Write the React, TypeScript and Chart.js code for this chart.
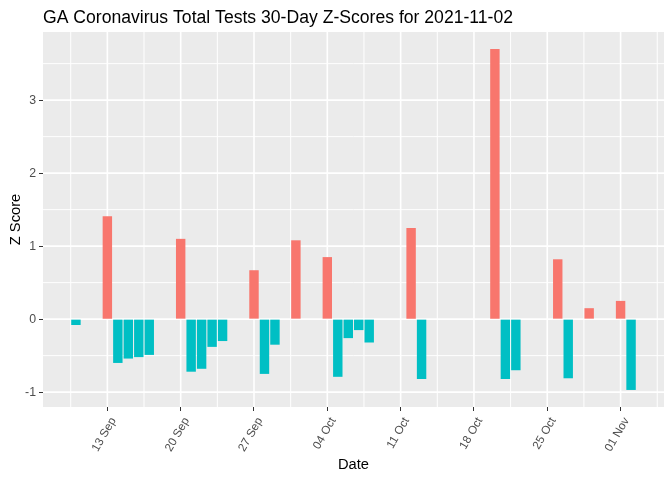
import React, { useEffect, useRef } from "react";
import { Chart, registerables } from "chart.js";

Chart.register(...registerables);

const chartTitle = "GA Coronavirus Total Tests 30-Day Z-Scores for 2021-11-02";
const xAxisTitle = "Date";
const yAxisTitle = "Z Score";

const dates = [
  "2021-09-10", "2021-09-13", "2021-09-14", "2021-09-15", "2021-09-16", "2021-09-17",
  "2021-09-20", "2021-09-21", "2021-09-22", "2021-09-23", "2021-09-24",
  "2021-09-27", "2021-09-28", "2021-09-29", "2021-10-01",
  "2021-10-04", "2021-10-05", "2021-10-06", "2021-10-07", "2021-10-08",
  "2021-10-12", "2021-10-13", "2021-10-20", "2021-10-21", "2021-10-22",
  "2021-10-26", "2021-10-27", "2021-10-29", "2021-11-01", "2021-11-02",
];
const zScores = [
  -0.08, 1.41, -0.6, -0.54, -0.52, -0.49,
  1.1, -0.72, -0.68, -0.38, -0.3,
  0.67, -0.75, -0.35, 1.08,
  0.85, -0.79, -0.26, -0.15, -0.32,
  1.25, -0.82, 3.7, -0.82, -0.7,
  0.82, -0.81, 0.15, 0.25, -0.97,
];
const xTickDates = [
  "2021-09-13", "2021-09-20", "2021-09-27", "2021-10-04",
  "2021-10-11", "2021-10-18", "2021-10-25", "2021-11-01",
];
const yTicks = [-1, 0, 1, 2, 3];

const MONTHS = ["Jan", "Feb", "Mar", "Apr", "May", "Jun", "Jul", "Aug", "Sep", "Oct", "Nov", "Dec"];
const EPOCH = Date.parse("2021-09-01T00:00:00Z");
const DAY = 86400000;
const dayNum = (s: string) => (Date.parse(s + "T00:00:00Z") - EPOCH) / DAY;
const dayLabel = (d: number) => {
  const t = new Date(EPOCH + Math.round(d) * DAY);
  return String(t.getUTCDate()).padStart(2, "0") + " " + MONTHS[t.getUTCMonth()];
};

const POS = "#F8766D";
const NEG = "#00BFC4";
const FONT = "'Liberation Sans', Arial, sans-serif";

export default function App() {
  const ref = useRef<HTMLCanvasElement | null>(null);

  useEffect(() => {
    document.body.style.margin = "0";
    const canvas = ref.current;
    if (!canvas) return;

    const days = dates.map(dayNum);
    const lo = Math.min(...days) - 0.45;
    const hi = Math.max(...days) + 0.45;
    const xMin = lo - 0.05 * (hi - lo);
    const xMax = hi + 0.05 * (hi - lo);
    const yLo = Math.min(0, ...zScores);
    const yHi = Math.max(0, ...zScores);
    const yMin = yLo - 0.05 * (yHi - yLo);
    const yMax = yHi + 0.05 * (yHi - yLo);

    const xMajor = xTickDates.map(dayNum);
    const xMinor: number[] = [];
    for (let i = -1; i < xMajor.length; i++) {
      const v = (xMajor[0] - 3.5) + 7 * (i + 1);
      if (v > xMin && v < xMax) xMinor.push(v);
    }
    const yMinor: number[] = [];
    for (let v = -1.5; v < yMax; v += 1) if (v > yMin) yMinor.push(v);

    const panelPlugin = {
      id: "panel",
      beforeDatasetsDraw(chart: any) {
        const { ctx, chartArea: a, scales } = chart;
        ctx.save();
        ctx.fillStyle = "#EBEBEB";
        ctx.fillRect(a.left, a.top, a.right - a.left, a.bottom - a.top);
        ctx.strokeStyle = "#FFFFFF";
        const vline = (v: number, w: number) => {
          const x = scales.x.getPixelForValue(v);
          ctx.lineWidth = w;
          ctx.beginPath();
          ctx.moveTo(x, a.top);
          ctx.lineTo(x, a.bottom);
          ctx.stroke();
        };
        const hline = (v: number, w: number) => {
          const y = scales.y.getPixelForValue(v);
          ctx.lineWidth = w;
          ctx.beginPath();
          ctx.moveTo(a.left, y);
          ctx.lineTo(a.right, y);
          ctx.stroke();
        };
        xMinor.forEach((v) => vline(v, 1));
        yMinor.forEach((v) => hline(v, 1));
        xMajor.forEach((v) => vline(v, 1.6));
        yTicks.forEach((v) => hline(v, 1.6));
        ctx.restore();
      },
      afterDraw(chart: any) {
        const { ctx, chartArea: a } = chart;
        ctx.save();
        ctx.fillStyle = "#000000";
        ctx.font = `17.6px ${FONT}`;
        ctx.textAlign = "left";
        ctx.textBaseline = "alphabetic";
        ctx.fillText(chartTitle, a.left, 22.5);
        ctx.font = `14.7px ${FONT}`;
        ctx.textAlign = "center";
        ctx.fillText(xAxisTitle, (a.left + a.right) / 2, 469);
        ctx.translate(19.5, (a.top + a.bottom) / 2);
        ctx.rotate(-Math.PI / 2);
        ctx.fillText(yAxisTitle, 0, 0);
        ctx.restore();
      },
    };

    const chart = new Chart(canvas, {
      type: "bar",
      data: {
        datasets: [
          {
            data: days.map((d, i) => ({ x: d, y: zScores[i] })),
            backgroundColor: zScores.map((v) => (v >= 0 ? POS : NEG)),
            borderWidth: 0,
            categoryPercentage: 1,
            barPercentage: 0.9,
          } as any,
        ],
      },
      options: {
        animation: false,
        responsive: false,
        devicePixelRatio: 1,
        layout: { padding: { top: 32, right: 8, left: 0, bottom: 0 } },
        plugins: { legend: { display: false }, tooltip: { enabled: false }, title: { display: false } },
        scales: {
          x: {
            type: "linear",
            min: xMin,
            max: xMax,
            offset: false,
            afterBuildTicks: (s: any) => {
              s.ticks = xMajor.map((v) => ({ value: v }));
            },
            afterFit: (s: any) => {
              s.height = 73;
            },
            grid: { offset: false, drawOnChartArea: false, drawTicks: true, tickLength: 4, tickColor: "#333333", lineWidth: 1 },
            border: { display: false },
            ticks: {
              autoSkip: false,
              minRotation: 60,
              maxRotation: 60,
              padding: 4,
              labelOffset: 6,
              color: "#4D4D4D",
              font: { family: FONT, size: 11.7 },
              callback: (v: any) => dayLabel(Number(v)),
            },
          },
          y: {
            type: "linear",
            min: yMin,
            max: yMax,
            afterBuildTicks: (s: any) => {
              s.ticks = yTicks.map((v) => ({ value: v }));
            },
            afterFit: (s: any) => {
              s.width = 43;
            },
            grid: { drawOnChartArea: false, drawTicks: true, tickLength: 4, tickColor: "#333333", lineWidth: 1 },
            border: { display: false },
            ticks: {
              padding: 3,
              color: "#4D4D4D",
              font: { family: FONT, size: 12.3 },
              callback: (v: any) => String(v),
            },
          },
        },
      } as any,
      plugins: [panelPlugin],
    });

    return () => chart.destroy();
  }, []);

  return (
    <div style={{ width: 672, height: 480, background: "#FFFFFF" }}>
      <canvas ref={ref} width={672} height={480} style={{ display: "block" }} />
    </div>
  );
}
